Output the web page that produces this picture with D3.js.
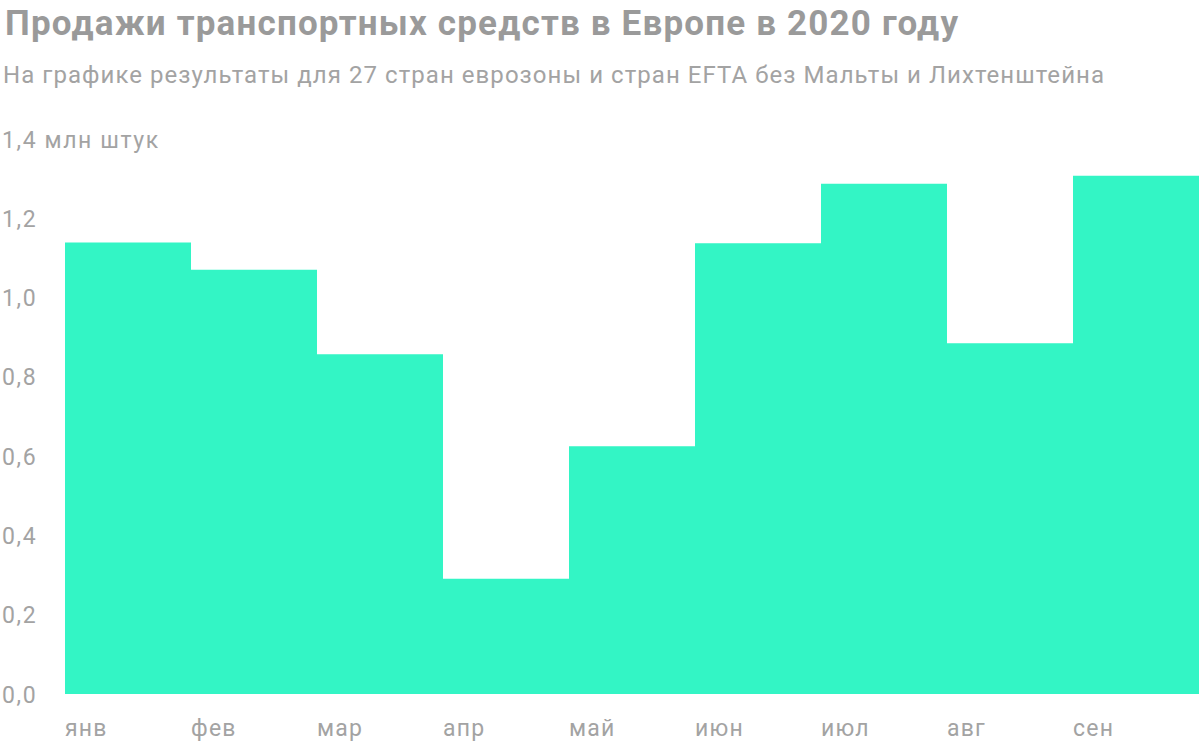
<!DOCTYPE html>
<html>
<head>
<meta charset="utf-8">
<script src="https://cdn.jsdelivr.net/npm/d3@7"></script>
<style>
  html, body { margin: 0; padding: 0; background: #fff; }
  svg { display: block; }
  text { font-family: Roboto, "Noto Sans", sans-serif; }
</style>
</head>
<body>
<svg id="chart" width="1200" height="747"></svg>
<script>
const months = ["янв", "фев", "мар", "апр", "май", "июн", "июл", "авг", "сен"];
const sales = [1.139, 1.070, 0.857, 0.291, 0.625, 1.137, 1.287, 0.885, 1.307];
const yTicks = [0, 0.2, 0.4, 0.6, 0.8, 1.0, 1.2, 1.4];
const title = "Продажи транспортных средств в Европе в 2020 году";
const subtitle = "На графике результаты для 27 стран еврозоны и стран EFTA без Мальты и Лихтенштейна";
const unit = "млн штук";

const W = 1200, H = 747;
const margin = { left: 65, right: 1, top: 139, bottom: 53 };
const svg = d3.select("#chart");

const x = d3.scaleBand().domain(months).range([margin.left, W - margin.right]).padding(0);
const y = d3.scaleLinear().domain([0, 1.4]).range([H - margin.bottom, margin.top]);

// step area
const pts = months.map((m, i) => ({ m, v: sales[i] }));
const stepData = pts.concat([{ m: null, v: sales[sales.length - 1] }]);
const area = d3.area()
  .x((d, i) => i < months.length ? x(d.m) : x(months[months.length - 1]) + x.bandwidth())
  .y0(y(0))
  .y1(d => y(d.v))
  .curve(d3.curveStepAfter);
svg.append("path")
  .datum(stepData)
  .attr("d", area)
  .attr("fill", "#33f5c5");

// title & subtitle
svg.append("text").attr("x", 5).attr("y", 35)
  .attr("font-size", 35).attr("font-weight", 700).attr("fill", "#9a9a9a")
  .attr("textLength", 953).attr("lengthAdjust", "spacing")
  .text(title);
svg.append("text").attr("x", 3).attr("y", 83)
  .attr("font-size", 24).attr("font-weight", 400).attr("fill", "#a3a3a3")
  .attr("textLength", 1101).attr("lengthAdjust", "spacing")
  .text(subtitle);

// y axis
const yAxis = d3.axisLeft(y).tickValues(yTicks).tickSize(0)
  .tickFormat(d => d3.format(".1f")(d).replace(".", ",") + (d === 1.4 ? " " + unit : ""));
const gy = svg.append("g").call(yAxis);
gy.select(".domain").remove();
gy.selectAll("text")
  .attr("x", 2).attr("text-anchor", "start").attr("dy", "0.35em")
  .attr("font-size", 23).attr("font-weight", 400).attr("fill", "#a3a3a3")
  .attr("letter-spacing", 1.6)
  .style("font-family", "Roboto, sans-serif");

// x axis
const xAxis = d3.axisBottom(x).tickSize(0);
const gx = svg.append("g").attr("transform", `translate(0,${H - margin.bottom})`).call(xAxis);
gx.select(".domain").remove();
gx.selectAll(".tick").attr("transform", d => `translate(${x(d)},0)`);
gx.selectAll("text")
  .attr("x", 0).attr("y", 42).attr("dy", 0).attr("text-anchor", "start")
  .attr("font-size", 23).attr("font-weight", 400).attr("fill", "#a3a3a3")
  .attr("letter-spacing", 1.2)
  .style("font-family", "Roboto, sans-serif");
</script>
</body>
</html>
